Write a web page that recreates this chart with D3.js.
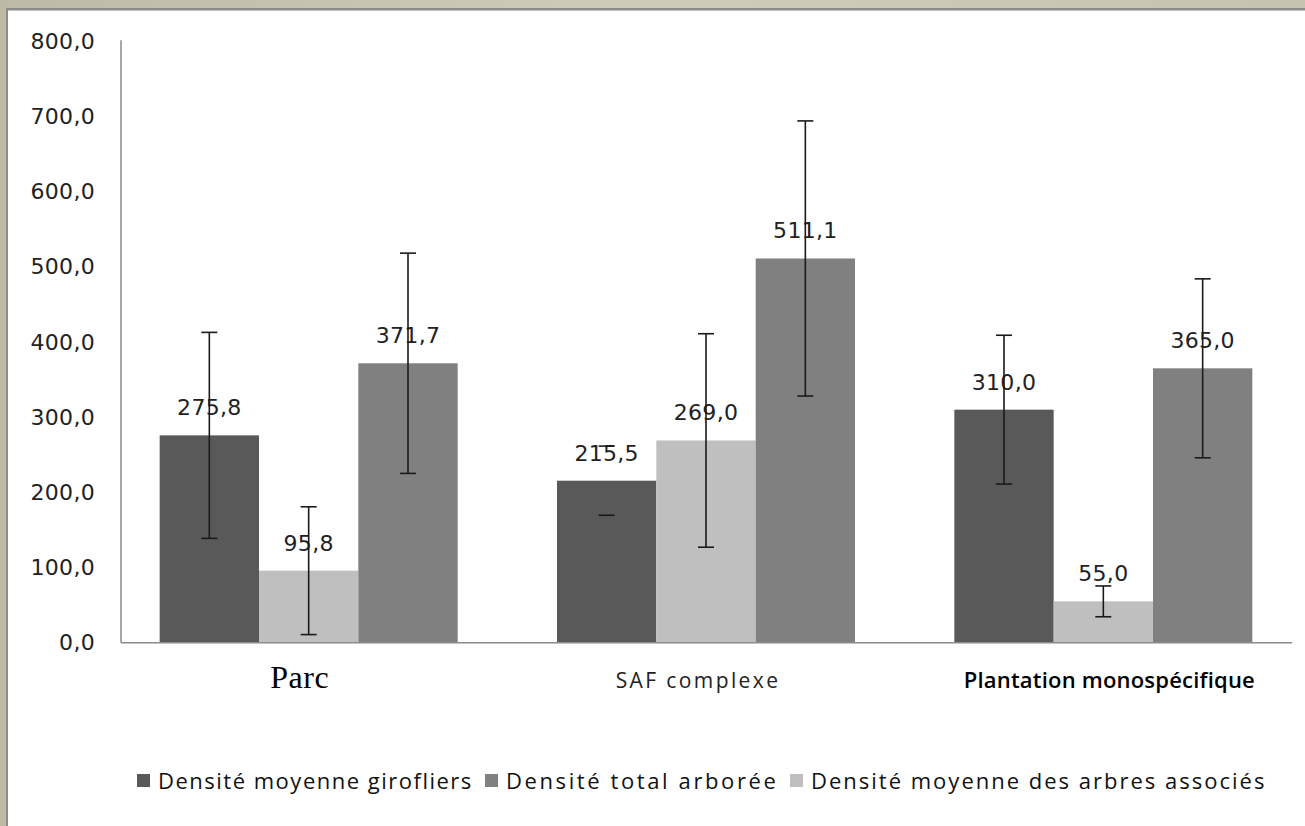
<!DOCTYPE html>
<html>
<head>
<meta charset="utf-8">
<script src="https://cdn.jsdelivr.net/npm/d3@7/dist/d3.min.js"></script>
<style>
  html, body { margin: 0; padding: 0; background: #ffffff; }
  svg { display: block; }
</style>
</head>
<body>
<svg id="chart" width="1305" height="826"></svg>
<script>
// ---- data ----
const categories = ["Parc", "SAF complexe", "Plantation monospécifique"];
const seriesNames = ["Densité moyenne girofliers", "Densité moyenne des arbres associés", "Densité total arborée"];
const girofliers = [275.8, 215.5, 310.0];
const associes   = [95.8, 269.0, 55.0];
const totalArb   = [371.7, 511.1, 365.0];
const errGirofliers = [137, 46, 99];
const errAssocies   = [85, 142, 20.5];
const errTotal      = [146.5, 183, 119];
const stemGirofliers = [true, false, true];
const stemAssocies   = [true, true, true];
const stemTotal      = [true, true, true];
const yTicks = [0, 100, 200, 300, 400, 500, 600, 700, 800];
const legendOrder = ["Densité moyenne girofliers", "Densité total arborée", "Densité moyenne des arbres associés"];

// ---- styling ----
const colors = {
  "Densité moyenne girofliers": "#595959",
  "Densité moyenne des arbres associés": "#bfbfbf",
  "Densité total arborée": "#808080"
};
const catStyles = [
  { family: "'Liberation Serif', serif", size: 32, weight: 400, fill: "#000", dx: -9, ls: 0.5 },
  { family: "'Open Sans', sans-serif", size: 21, weight: 400, fill: "#222", dx: -8, ls: 2.4 },
  { family: "'Open Sans', sans-serif", size: 22, weight: 600, fill: "#000", dx: 6, ls: 0.2 }
];
const legendX = [137, 485, 790];
const legendSpacing = [1.5, 2.6, 2.0];

const svg = d3.select("#chart");
const W = 1305, H = 826;

// frame (beige border, top and left)
const defs = svg.append("defs");
const grad = defs.append("linearGradient").attr("id", "topg").attr("x1", 0).attr("x2", 1).attr("y1", 0).attr("y2", 0);
grad.append("stop").attr("offset", "0%").attr("stop-color", "#bdbba6");
grad.append("stop").attr("offset", "50%").attr("stop-color", "#cfcdb8");
grad.append("stop").attr("offset", "100%").attr("stop-color", "#c6c4ae");
svg.append("rect").attr("x", 0).attr("y", 0).attr("width", W).attr("height", 8).attr("fill", "url(#topg)");
svg.append("rect").attr("x", 0).attr("y", 8).attr("width", W).attr("height", 2.5).attr("fill", "#8c8c8c");
svg.append("rect").attr("x", 0).attr("y", 0).attr("width", 6).attr("height", H).attr("fill", "#bcbaa5");
svg.append("rect").attr("x", 6).attr("y", 8).attr("width", 2).attr("height", H - 8).attr("fill", "#8c8c8c");

// scales
const y = d3.scaleLinear().domain([0, 800]).range([642.7, 41.3]);
const x0 = d3.scaleBand().domain(categories).range([110, 1302]).paddingInner(0.25).paddingOuter(0.125);
const x1 = d3.scaleBand().domain(seriesNames).range([0, x0.bandwidth()]).padding(0);

const axisLeftX = 121;

// y axis
const yAxis = d3.axisLeft(y).tickValues(yTicks).tickSize(0).tickPadding(26)
  .tickFormat(d => d3.format(".1f")(d).replace(".", ","));
const gy = svg.append("g").attr("transform", `translate(${axisLeftX},0)`).call(yAxis);
gy.select(".domain").remove();
gy.selectAll("text")
  .attr("font-family", "'DejaVu Sans', sans-serif")
  .attr("font-size", 22)
  .attr("letter-spacing", 0.3)
  .attr("fill", "#222");
svg.append("line").attr("x1", axisLeftX).attr("x2", axisLeftX)
  .attr("y1", y(800) - 1).attr("y2", y(0))
  .attr("stroke", "#8a8a8a").attr("stroke-width", 1.5);

// data rows
const rows = categories.map((c, i) => ({
  cat: c,
  items: [
    { s: seriesNames[0], v: girofliers[i], e: errGirofliers[i], stem: stemGirofliers[i] },
    { s: seriesNames[1], v: associes[i],   e: errAssocies[i],   stem: stemAssocies[i] },
    { s: seriesNames[2], v: totalArb[i],   e: errTotal[i],      stem: stemTotal[i] }
  ]
}));

const groups = svg.append("g").selectAll("g").data(rows).join("g")
  .attr("transform", d => `translate(${x0(d.cat)},0)`);

groups.selectAll("rect").data(d => d.items).join("rect")
  .attr("x", d => x1(d.s))
  .attr("width", x1.bandwidth())
  .attr("y", d => y(d.v))
  .attr("height", d => y(0) - y(d.v))
  .attr("fill", d => colors[d.s]);

// baseline
svg.append("line").attr("x1", axisLeftX).attr("x2", 1292)
  .attr("y1", y(0)).attr("y2", y(0))
  .attr("stroke", "#8a8a8a").attr("stroke-width", 1.5);

// value labels
groups.selectAll("text.val").data(d => d.items).join("text")
  .attr("class", "val")
  .attr("x", d => x1(d.s) + x1.bandwidth() / 2)
  .attr("y", d => y(d.v) - 20)
  .attr("text-anchor", "middle")
  .attr("font-family", "'DejaVu Sans', sans-serif")
  .attr("font-size", 22)
  .attr("letter-spacing", 0.3)
  .attr("fill", "#222")
  .text(d => d3.format(".1f")(d.v).replace(".", ","));

// error bars
const capHalf = 8;
const eb = groups.selectAll("g.err").data(d => d.items).join("g").attr("class", "err")
  .attr("stroke", "#1a1a1a").attr("stroke-width", 1.6);
eb.filter(d => d.stem).append("line")
  .attr("x1", d => x1(d.s) + x1.bandwidth() / 2).attr("x2", d => x1(d.s) + x1.bandwidth() / 2)
  .attr("y1", d => y(d.v + d.e)).attr("y2", d => y(d.v - d.e));
eb.append("line")
  .attr("x1", d => x1(d.s) + x1.bandwidth() / 2 - capHalf).attr("x2", d => x1(d.s) + x1.bandwidth() / 2 + capHalf)
  .attr("y1", d => y(d.v + d.e)).attr("y2", d => y(d.v + d.e));
eb.append("line")
  .attr("x1", d => x1(d.s) + x1.bandwidth() / 2 - capHalf).attr("x2", d => x1(d.s) + x1.bandwidth() / 2 + capHalf)
  .attr("y1", d => y(d.v - d.e)).attr("y2", d => y(d.v - d.e));

// category labels
svg.append("g").selectAll("text").data(categories).join("text")
  .attr("x", (d, i) => x0(d) + x0.bandwidth() / 2 + catStyles[i].dx)
  .attr("y", 688)
  .attr("text-anchor", "middle")
  .attr("font-family", (d, i) => catStyles[i].family)
  .attr("font-size", (d, i) => catStyles[i].size)
  .attr("font-weight", (d, i) => catStyles[i].weight)
  .attr("letter-spacing", (d, i) => catStyles[i].ls)
  .attr("fill", (d, i) => catStyles[i].fill)
  .text(d => d);

// legend
const lg = svg.append("g").attr("transform", "translate(0,781)");
legendOrder.forEach((name, i) => {
  const item = lg.append("g").attr("transform", `translate(${legendX[i]},0)`);
  item.append("rect").attr("x", 0).attr("y", -7).attr("width", 13).attr("height", 13).attr("fill", colors[name]);
  item.append("text").attr("x", 21).attr("y", 8)
    .attr("font-family", "'Open Sans', sans-serif").attr("font-size", 22)
    .attr("letter-spacing", legendSpacing[i]).attr("fill", "#111")
    .text(name);
});
</script>
</body>
</html>
